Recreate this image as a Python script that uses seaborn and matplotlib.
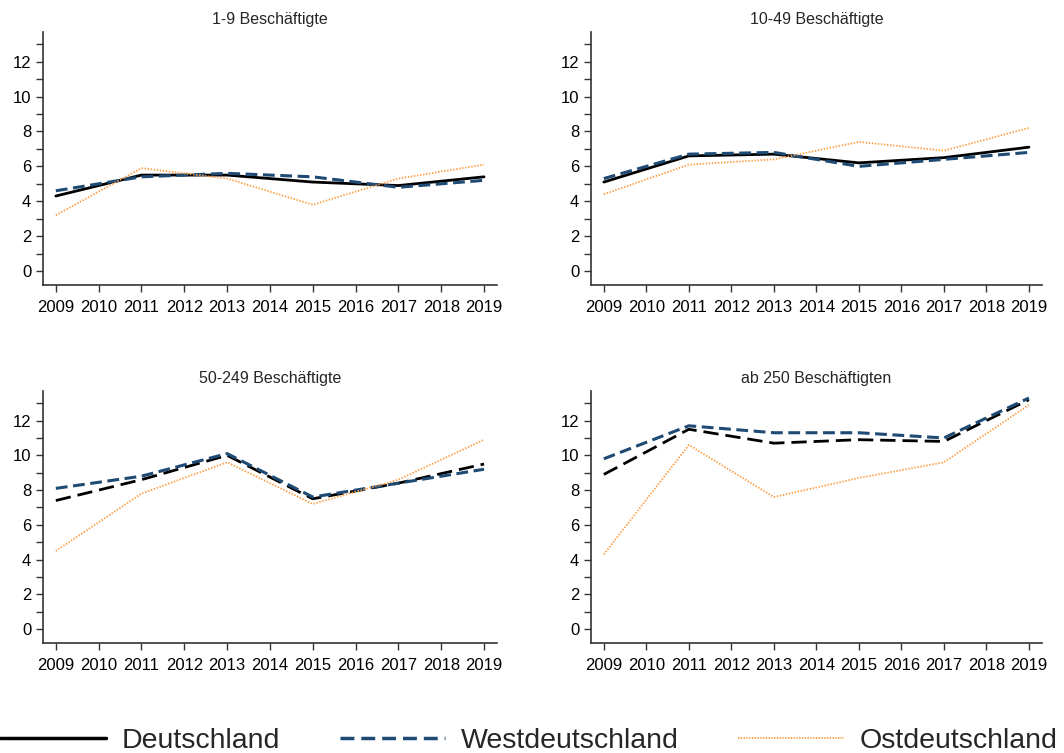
import matplotlib
matplotlib.use("Agg")
import matplotlib.pyplot as plt
import numpy as np
import pandas as pd
import seaborn as sns
from matplotlib.lines import Line2D

sns.set_style("ticks")
plt.rcParams["font.family"] = ["Liberation Sans", "DejaVu Sans"]
plt.rcParams["lines.scale_dashes"] = False

# data
years = [2009, 2011, 2013, 2015, 2017, 2019]
panel_titles = ["1-9 Beschäftigte", "10-49 Beschäftigte",
                "50-249 Beschäftigte", "ab 250 Beschäftigten"]
series_names = ["Deutschland", "Westdeutschland", "Ostdeutschland"]

deutschland = [
    [4.3, 5.5, 5.5, 5.1, 4.9, 5.4],
    [5.1, 6.6, 6.7, 6.2, 6.5, 7.1],
    [7.4, 8.6, 10.0, 7.5, 8.4, 9.5],
    [8.9, 11.5, 10.7, 10.9, 10.8, 13.2],
]
westdeutschland = [
    [4.6, 5.4, 5.6, 5.4, 4.8, 5.2],
    [5.3, 6.7, 6.8, 6.0, 6.4, 6.8],
    [8.1, 8.8, 10.1, 7.6, 8.4, 9.2],
    [9.8, 11.7, 11.3, 11.3, 11.0, 13.3],
]
ostdeutschland = [
    [3.2, 5.9, 5.3, 3.8, 5.3, 6.1],
    [4.4, 6.1, 6.4, 7.4, 6.9, 8.2],
    [4.5, 7.8, 9.6, 7.2, 8.6, 10.9],
    [4.3, 10.6, 7.6, 8.7, 9.6, 12.9],
]

col_d = "black"
col_w = "#1f4a73"
col_o = "#ff9a3c"

fig = plt.figure(figsize=(10.64, 7.53), dpi=100)
positions = [
    [0.0404, 0.6215, 0.4266, 0.336],
    [0.5555, 0.6215, 0.4235, 0.336],
    [0.0404, 0.146, 0.4266, 0.3347],
    [0.5555, 0.146, 0.4235, 0.3347],
]

axes = []
for i in range(4):
    ax = fig.add_axes(positions[i])
    axes.append(ax)
    # bottom two panels draw Deutschland with long dashes
    d_style = "-" if i < 2 else (0, (11, 5))
    sns.lineplot(x=years, y=deutschland[i], ax=ax, color=col_d, lw=2.0,
                 linestyle=d_style, label=series_names[0], legend=False)
    sns.lineplot(x=years, y=westdeutschland[i], ax=ax, color=col_w, lw=2.2,
                 linestyle=(0, (8.5, 4)), label=series_names[1], legend=False)
    sns.lineplot(x=years, y=ostdeutschland[i], ax=ax, color=col_o, lw=1.3,
                 linestyle=(0, (1, 1.2)), label=series_names[2], legend=False)

    ax.set_xlim(2008.7, 2019.3)
    ax.set_ylim(-0.8, 13.7)
    ax.set_xticks(range(2009, 2020))
    ax.set_yticks(range(0, 13, 2))
    ax.set_yticks(range(1, 14, 2), minor=True)
    ax.tick_params(axis="both", which="both", direction="out", length=5,
                   width=1, colors="#333333", labelcolor="black", labelsize=12)
    ax.tick_params(axis="x", pad=6)
    sns.despine(ax=ax)
    for s in ["left", "bottom"]:
        ax.spines[s].set_linewidth(1.2)
        ax.spines[s].set_color("#333333")
    ax.set_title(panel_titles[i], fontsize=11.5, pad=6)
    ax.set_xlabel("")
    ax.set_ylabel("")

handles = [
    Line2D([], [], color=col_d, lw=2.5, linestyle="-"),
    Line2D([], [], color=col_w, lw=2.5, linestyle=(0, (10, 5))),
    Line2D([], [], color=col_o, lw=1.3, linestyle=(0, (1, 1))),
]
fig.legend(handles, series_names, loc="lower center", ncol=3,
           bbox_to_anchor=(0.497, -0.035), frameon=False, fontsize=20.5,
           handlelength=3.7, handletextpad=0.55, columnspacing=2.1)

fig.savefig("out.png", dpi=100)
